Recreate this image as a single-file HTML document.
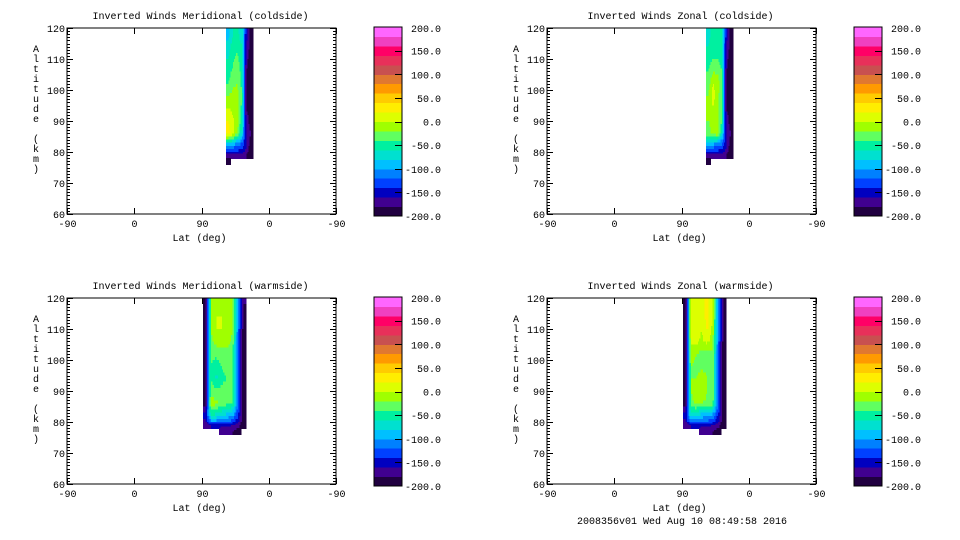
<!DOCTYPE html>
<html><head><meta charset="utf-8"><style>
html,body{margin:0;padding:0;background:#fff;}
svg{display:block;font-family:"Liberation Mono","DejaVu Sans Mono",monospace;font-size:10px;}
</style></head><body>
<svg id="fig" width="960" height="540" viewBox="0 0 960 540" xmlns="http://www.w3.org/2000/svg"></svg>
<script>
// ---- data ----
const xTickValues = [-90, 0, 90, 180, 270];
const xTickLabels = ["-90", "0", "90", "0", "-90"];
const yTickValues = [60, 70, 80, 90, 100, 110, 120];
const cbarTickValues = [200, 150, 100, 50, 0, -50, -100, -150, -200];
const cbarTickLabels = ["200.0","150.0","100.0","50.0","0.0","-50.0","-100.0","-150.0","-200.0"];
const levelColors = ["#200040","#400090","#0000c0","#0040ff","#0080ff","#00c0ff","#00e0d0","#00f0a0","#60ff60","#a0ff00","#ddff00","#ffee00","#ffcc00","#ff9a00","#e07830","#c85050","#e8305a","#ff0066","#f040c0","#ff66ff"];
const altEdges = [120,116,112,108,104,100,96,92,88,84,80,78,76];
const coldLatStart = 123, coldLatStep = 6;
const warmLatStart = 92, warmLatStep = 7.2;
const merCold = [
[-90,-60,-55,-70,-150,-190],
[-70,-50,-45,-60,-160,-190],
[-60,-45,-35,-55,-170,-200],
[-50,-35,-25,-50,-180,-200],
[-40,-25,-20,-45,-190,-200],
[-20,-10,-15,-40,-190,-200],
[0,-5,-10,-45,-180,-190],
[20,5,-10,-50,-170,-190],
[30,10,-20,-70,-160,-180],
[-100,-110,-120,-130,-160,-190],
[-170,-170,-170,-170,-180,-200],
[-190,null,null,null,null,null]];
const zonCold = [
[-70,-50,-50,-60,-150,-190],
[-60,-45,-45,-55,-160,-190],
[-50,-40,-40,-50,-170,-200],
[-40,-20,-25,-40,-180,-200],
[-30,0,-5,-30,-190,-200],
[-20,10,-10,-40,-190,-200],
[-20,0,-15,-40,-180,-190],
[-20,-15,-15,-40,-170,-190],
[-30,-10,-5,-60,-160,-180],
[-100,-110,-120,-130,-160,-190],
[-170,-170,-170,-170,-180,-200],
[-190,null,null,null,null,null]];
const merWarm = [
[-200,-20,-5,-5,-10,-20,-100,-180],
[-200,-20,0,0,-5,-20,-110,-190],
[-200,-20,0,0,-5,-20,-110,-190],
[-200,-25,-10,-10,-10,-25,-120,-190],
[-200,-35,-35,-30,-30,-35,-120,-190],
[-200,-40,-50,-40,-35,-40,-120,-190],
[-200,-40,-65,-45,-40,-40,-120,-190],
[-200,-30,-35,-35,-30,-35,-120,-190],
[-190,-10,-15,-30,-35,-40,-120,-190],
[-150,-60,-70,-80,-90,-100,-140,-190],
[-180,-160,-150,-150,-150,-160,-170,-200],
[null,null,null,-180,-180,-180,-190,null]];
const zonWarm = [
[-200,10,20,10,30,0,-100,-190],
[-200,10,20,5,30,0,-100,-190],
[-200,10,15,0,25,-5,-110,-190],
[-200,5,5,-5,5,-10,-110,-190],
[-200,-10,-20,-25,-25,-25,-120,-190],
[-200,-20,-25,-25,-25,-25,-120,-190],
[-200,-20,-20,-10,-20,-25,-120,-190],
[-200,-20,-10,-5,-20,-25,-120,-190],
[-190,-25,-15,-20,-25,-30,-120,-190],
[-150,-70,-80,-90,-100,-110,-140,-190],
[-180,-160,-150,-150,-150,-160,-170,-200],
[null,null,null,-180,-180,-180,-190,null]];

// ---- drawing ----
const NS = "http://www.w3.org/2000/svg";
const fig = document.getElementById("fig");
function mk(tag, attrs, parent, text){
  const e = document.createElementNS(NS, tag);
  for (const k in attrs) e.setAttribute(k, attrs[k]);
  if (text !== undefined) e.textContent = text;
  (parent || fig).appendChild(e);
  return e;
}
function colorFor(v){
  let i = Math.floor((v + 200) / 20);
  if (i < 0) i = 0; if (i > 19) i = 19;
  return levelColors[i];
}
function getV(data, r, c){
  if (r < 0 || r >= data.length || c < 0 || c >= data[0].length) return null;
  return data[r][c];
}
// bilinear interpolation between cell centres (fr, fc in cell-centre units)
function interp(data, fr, fc, r0, c0){
  const r1 = Math.floor(fr), c1 = Math.floor(fc);
  const dr = fr - r1, dc = fc - c1;
  let s = 0, w = 0;
  [[r1,c1,(1-dr)*(1-dc)],[r1+1,c1,dr*(1-dc)],[r1,c1+1,(1-dr)*dc],[r1+1,c1+1,dr*dc]].forEach(q => {
    const v = getV(data, q[0], q[1]);
    if (v !== null && q[2] > 0) { s += v * q[2]; w += q[2]; }
  });
  return w > 0 ? s / w : data[r0][c0];
}
const panels = [
  {key:"meridional-coldside", title:"Inverted Winds Meridional (coldside)", x0:67, y0:28, data:merCold, latStart:coldLatStart, latStep:coldLatStep},
  {key:"zonal-coldside", title:"Inverted Winds Zonal (coldside)", x0:547, y0:28, data:zonCold, latStart:coldLatStart, latStep:coldLatStep},
  {key:"meridional-warmside", title:"Inverted Winds Meridional (warmside)", x0:67, y0:298, data:merWarm, latStart:warmLatStart, latStep:warmLatStep},
  {key:"zonal-warmside", title:"Inverted Winds Zonal (warmside)", x0:547, y0:298, data:zonWarm, latStart:warmLatStart, latStep:warmLatStep}
];
const W = 269, H = 186, SUB = 4;
panels.forEach(p => {
  const g = mk("g", {});
  
  
  const xs = u => p.x0 + (u + 90) / 360 * W;
  const ys = a => p.y0 + H - (a - 60) / 60 * H;
  const t = mk("text", {x: p.x0 + W/2 - 1, y: p.y0 - 9, "text-anchor":"middle", fill:"#000"}, g, p.title);
  
  
  const cg = mk("g", {"shape-rendering":"crispEdges"}, g);
  
  
  p.data.forEach((row, r) => {
    row.forEach((v, c) => {
      if (v === null) return;
      const xa = xs(p.latStart + c * p.latStep), xb = xs(p.latStart + (c + 1) * p.latStep);
      const ya = ys(altEdges[r]), yb = ys(altEdges[r + 1]);
      for (let i = 0; i < SUB; i++) {
        for (let j = 0; j < SUB; j++) {
          const fr = r - 0.5 + (i + 0.5) / SUB, fc = c - 0.5 + (j + 0.5) / SUB;
          const val = interp(p.data, fr, fc, r, c);
          const sx = xa + (xb - xa) * j / SUB, sy = ya + (yb - ya) * i / SUB;
          const rc = mk("rect", {x: sx, y: sy, width: (xb - xa) / SUB + 0.6, height: (yb - ya) / SUB + 0.6, fill: colorFor(val)}, cg);
          
          
        }
      }
    });
  });
  const fr = mk("rect", {x:p.x0, y:p.y0, width:W, height:H, fill:"none", stroke:"#000", "stroke-width":1, "shape-rendering":"crispEdges"}, g);
  
  
  xTickValues.forEach((u, i) => {
    const x = Math.round(xs(u)) + 0.5;
    mk("line", {x1:x, x2:x, y1:p.y0 + H, y2:p.y0 + H - 6, stroke:"#000"}, g);
    mk("line", {x1:x, x2:x, y1:p.y0, y2:p.y0 + 6, stroke:"#000"}, g);
    const tl = mk("text", {x:x, y:p.y0 + H + 13, "text-anchor":"middle"}, g, xTickLabels[i]);
    
    
  });
  for (let a = 60; a <= 120; a += 1) {
    const y = Math.round(ys(a)) + 0.5;
    const len = (a % 10 === 0) ? 6 : 3;
    mk("line", {x1:p.x0, x2:p.x0 + len, y1:y, y2:y, stroke:"#000"}, g);
    mk("line", {x1:p.x0 + W, x2:p.x0 + W - len, y1:y, y2:y, stroke:"#000"}, g);
  }
  yTickValues.forEach(a => {
    const yl = mk("text", {x:p.x0 - 2, y:ys(a) + 4, "text-anchor":"end"}, g, String(a));
    
    
  });
  const xt = mk("text", {x:p.x0 + W/2 - 2, y:p.y0 + H + 27, "text-anchor":"middle"}, g, "Lat (deg)");
  
  
  const yt = mk("text", {x:p.x0 - 31, y:p.y0 + 24, "text-anchor":"middle"}, g);
  
  
  "Altitude (km)".split("").forEach((ch, i) => {
    mk("tspan", {x:p.x0 - 31, y:p.y0 + 24 + i * 10}, yt, ch);
  });
  const cbx = p.x0 + 307, cby = p.y0 - 1, cbw = 28, cbh = 189;
  const cb = mk("g", {"shape-rendering":"crispEdges"}, g);
  
  
  const bh = cbh / levelColors.length;
  levelColors.forEach((col, i) => {
    mk("rect", {x:cbx, y:cby + cbh - (i + 1) * bh, width:cbw, height:bh + 0.5, fill:col}, cb);
  });
  mk("rect", {x:cbx, y:cby, width:cbw, height:cbh, fill:"none", stroke:"#000"}, cb);
  cbarTickValues.forEach((v, i) => {
    const y = cby + cbh - (v + 200) / 400 * cbh;
    if (i > 0 && i < cbarTickValues.length - 1) mk("line", {x1:cbx + cbw - 7, x2:cbx + cbw, y1:Math.round(y) + 0.5, y2:Math.round(y) + 0.5, stroke:"#000"}, cb);
    const lab = mk("text", {x:cbx + 67, y:y + 4 - (i === 0 ? -1 : 0), "text-anchor":"end"}, cb, cbarTickLabels[i]);
    
    
  });
});
const foot = mk("text", {x:682, y:524, "text-anchor":"middle"}, fig, "2008356v01 Wed Aug 10 08:49:58 2016");


</script>
</body></html>
